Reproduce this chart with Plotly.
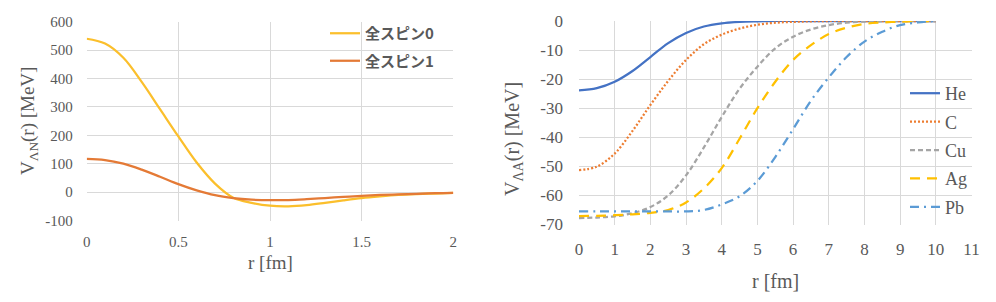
import plotly.graph_objects as go

# ---------------- data ----------------
r_left = [0.0, 0.1, 0.2, 0.3, 0.4, 0.5, 0.6, 0.7, 0.8, 0.9, 1.0,
          1.1, 1.2, 1.3, 1.4, 1.5, 1.6, 1.7, 1.8, 1.9, 2.0]
spin0 = [540, 523, 473, 388, 292, 196, 104, 30, -20, -38, -48,
         -50, -46, -38, -29, -21, -15, -10, -7, -5, -3]
spin1 = [117, 113, 100, 79, 54, 28, 6, -11, -21, -26.5, -28.5,
         -28, -25, -21, -17, -13, -10, -8, -6, -4, -3]

r_right = [0, 0.5, 1, 1.5, 2, 2.5, 3, 3.5, 4, 4.5, 5,
           5.5, 6, 6.5, 7, 7.5, 8, 8.5, 9, 9.5, 10]
v_he = [-23.9, -23.1, -20.9, -17.2, -12.4, -7.6, -4.1, -1.9, -0.8, -0.3, -0.1,
        0, 0, 0, 0, 0, 0, 0, 0, 0, 0]
v_c = [-51.3, -50.1, -45.6, -37.8, -28.9, -20.6, -13.4, -8.0, -4.7, -2.6, -1.3,
       -0.6, -0.3, -0.1, 0, 0, 0, 0, 0, 0, 0]
v_cu = [-67.8, -67.6, -67.2, -66.1, -64.0, -60.0, -53.1, -43.5, -33.0, -23.3, -15.7,
        -9.4, -5.4, -2.9, -1.4, -0.6, -0.2, -0.1, 0, 0, 0]
v_ag = [-67.1, -67.0, -66.8, -66.5, -66.0, -65.0, -62.4, -57.6, -50.6, -40.5, -30.0,
        -20.9, -13.4, -8.3, -4.5, -2.3, -1.0, -0.5, -0.2, -0.1, 0]
v_pb = [-65.5, -65.5, -65.5, -65.5, -65.5, -65.5, -65.5, -65.0, -63.1, -60.3, -55.0,
        -46.8, -37.2, -27.4, -19.4, -12.4, -7.1, -3.7, -1.4, -0.5, 0]

left_names = ["全スピン0", "全スピン1"]
right_names = ["He", "C", "Cu", "Ag", "Pb"]

left_xticks = [0, 0.5, 1, 1.5, 2]
left_xlabels = ["0", "0.5", "1", "1.5", "2"]
left_yticks = [-100, 0, 100, 200, 300, 400, 500, 600]
left_ylabels = ["-100", "0", "100", "200", "300", "400", "500", "600"]
right_xticks = [0, 1, 2, 3, 4, 5, 6, 7, 8, 9, 10, 11]
right_xlabels = ["0", "1", "2", "3", "4", "5", "6", "7", "8", "9", "10", "11"]
right_yticks = [-70, -60, -50, -40, -30, -20, -10, 0]
right_ylabels = ["-70", "-60", "-50", "-40", "-30", "-20", "-10", "0"]

# ---------------- styles ----------------
GRID = "#D9D9D9"
TXT = "#595959"
SERIF = "Liberation Serif, DejaVu Serif, serif"
CJK = "Noto Sans CJK JP, sans-serif"

fig = go.Figure()

left_colors = ["#FBBF2C", "#E47A36"]
for name, ys, col in zip(left_names, [spin0, spin1], left_colors):
    fig.add_trace(go.Scatter(
        x=r_left, y=ys, name=name, mode="lines",
        line=dict(color=col, width=2.25, shape="spline", smoothing=1.0),
        xaxis="x", yaxis="y", legend="legend", legendgroup=name))

right_colors = ["#4472C4", "#ED7D31", "#A5A5A5", "#FFC000", "#5B9BD5"]
right_dash = ["solid", "2px,2px", "5px,3px", "10px,7px", "9px,5px,2px,5px"]
for name, ys, col, dsh in zip(right_names, [v_he, v_c, v_cu, v_ag, v_pb],
                              right_colors, right_dash):
    fig.add_trace(go.Scatter(
        x=r_right, y=ys, name=name, mode="lines",
        line=dict(color=col, width=2.25, dash=dsh, shape="spline", smoothing=1.0),
        xaxis="x2", yaxis="y2", legend="legend2", legendgroup=name))

W, H = 996, 302


def px_x(p):
    return p / W


def px_y(p):
    return 1 - p / H


axis_common = dict(showgrid=True, gridcolor=GRID, gridwidth=1,
                   zeroline=False, showline=False, ticks="",
                   fixedrange=True, automargin=False)

fig.update_layout(
    width=W, height=H,
    margin=dict(l=0, r=0, t=0, b=0, autoexpand=False),
    paper_bgcolor="white", plot_bgcolor="white",
    showlegend=True,
    xaxis=dict(domain=[px_x(86.7), px_x(453.3)], range=[0, 2],
               tickvals=left_xticks, ticktext=left_xlabels,
               tickfont=dict(family=SERIF, size=15, color=TXT),
               ticklabelstandoff=10, anchor="y", **axis_common),
    yaxis=dict(domain=[px_y(220.5), px_y(21.7)], range=[-100, 600],
               tickvals=left_yticks, ticktext=left_ylabels,
               tickfont=dict(family=SERIF, size=15, color=TXT),
               ticklabelstandoff=13, anchor="x", **axis_common),
    xaxis2=dict(domain=[px_x(579), px_x(971.5)], range=[0, 11],
                tickvals=right_xticks, ticktext=right_xlabels,
                tickfont=dict(family=SERIF, size=17, color=TXT),
                ticklabelstandoff=12, anchor="y2", **axis_common),
    yaxis2=dict(domain=[px_y(224.5), px_y(21)], range=[-70, 0],
                tickvals=right_yticks, ticktext=right_ylabels,
                tickfont=dict(family=SERIF, size=17, color=TXT),
                ticklabelstandoff=15, anchor="x2", **axis_common),
    legend=dict(x=px_x(325), y=px_y(17), xanchor="left", yanchor="top",
                bgcolor="rgba(0,0,0,0)", borderwidth=0,
                font=dict(family=CJK, size=15, color=TXT, weight="bold"),
                tracegroupgap=5, itemwidth=30),
    legend2=dict(x=px_x(905), y=px_y(75), xanchor="left", yanchor="top",
                 bgcolor="rgba(0,0,0,0)", borderwidth=0,
                 font=dict(family=SERIF, size=18, color=TXT),
                 tracegroupgap=2, itemwidth=30),
    annotations=[
        dict(text="r [fm]", xref="paper", yref="paper",
             x=px_x(270), y=px_y(262), xanchor="center", yanchor="middle",
             showarrow=False, font=dict(family=SERIF, size=19, color=TXT)),
        dict(text="V<sub>ΛN</sub>(r) [MeV]", xref="paper", yref="paper",
             x=px_x(29), y=px_y(121), xanchor="center", yanchor="middle",
             textangle=-90, showarrow=False,
             font=dict(family=SERIF, size=19, color=TXT)),
        dict(text="r [fm]", xref="paper", yref="paper",
             x=px_x(775), y=px_y(281), xanchor="center", yanchor="middle",
             showarrow=False, font=dict(family=SERIF, size=20, color=TXT)),
        dict(text="V<sub>ΛA</sub>(r) [MeV]", xref="paper", yref="paper",
             x=px_x(513), y=px_y(139), xanchor="center", yanchor="middle",
             textangle=-90, showarrow=False,
             font=dict(family=SERIF, size=20, color=TXT)),
    ],
)

fig.write_html("out.html")
